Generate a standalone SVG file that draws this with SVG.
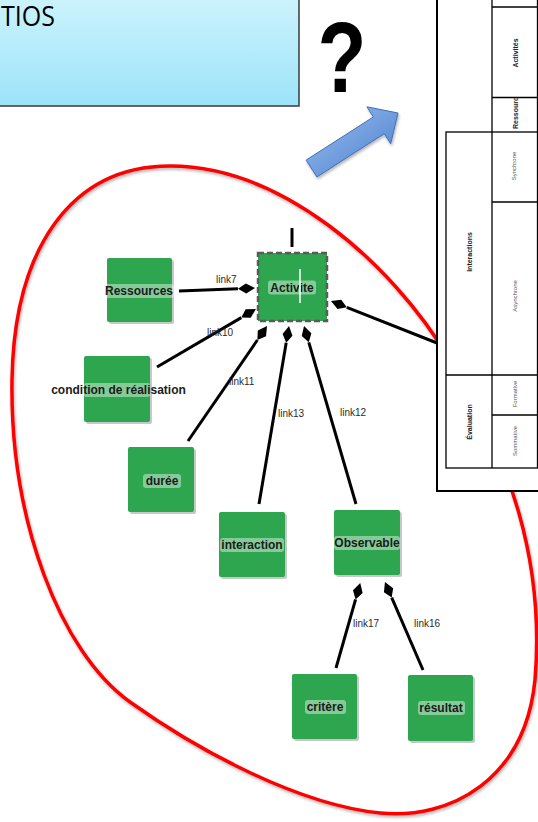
<svg xmlns="http://www.w3.org/2000/svg" width="538" height="822" viewBox="0 0 538 822">
<style>
.node{fill:#2da64f;}
.shadow{fill:#9a9a9a;opacity:0.55;}
.lbg{fill:#ffffff;opacity:0.42;}
.nl{font-family:"Liberation Sans",Arial,sans-serif;font-weight:bold;font-size:12px;fill:#1b1b1b;text-anchor:middle;}
.ll{font-family:"Liberation Sans",Arial,sans-serif;font-size:10px;fill:#2a2a2a;}
.conn{stroke:#000;stroke-width:3;fill:none;marker-end:url(#dia);}
.tb{font-family:"Liberation Sans",Arial,sans-serif;font-weight:bold;font-size:7px;fill:#222;text-anchor:middle;}
.tn{font-family:"Liberation Sans",Arial,sans-serif;font-size:6px;fill:#555;text-anchor:middle;}
.tl{stroke:#000;stroke-width:1.3;fill:none;}
</style>
<defs>
<marker id="dia" markerUnits="userSpaceOnUse" markerWidth="20" markerHeight="14" refX="0" refY="6" orient="auto" viewBox="0 0 20 12">
<path d="M0,6 L8,1 L17,6 L8,11 Z" fill="#000"/>
</marker>
<linearGradient id="titleG" x1="0" y1="0" x2="0" y2="1">
<stop offset="0" stop-color="#ccf3fd"/>
<stop offset="1" stop-color="#9de3f9"/>
</linearGradient>
<linearGradient id="arrG" x1="0" y1="0" x2="1" y2="1">
<stop offset="0" stop-color="#9cc2f2"/>
<stop offset="1" stop-color="#4a7ccb"/>
</linearGradient>
<filter id="sh" x="-10%" y="-10%" width="120%" height="120%">
<feGaussianBlur in="SourceAlpha" stdDeviation="1.5"/>
<feOffset dx="1" dy="2" result="b"/>
<feComponentTransfer><feFuncA type="linear" slope="0.3"/></feComponentTransfer>
<feMerge><feMergeNode/><feMergeNode in="SourceGraphic"/></feMerge>
</filter>
<clipPath id="resClip"><rect x="492" y="98" width="50" height="33"/></clipPath>
</defs>

<!-- red ellipse -->
<path id="ellipse" d="M170,166 C280,166 390,260 450,360 C510,460 545,560 535,680 C525,780 450,820 380,813 C300,805 200,752 130,702 C60,652 10,520 12,380 C14,250 70,166 170,166 Z" fill="none" stroke="#ff0000" stroke-width="3.5" filter="url(#sh)"/>

<!-- connectors -->
<g id="connectors">
<path class="conn" d="M179,291 L238,288.7"/>
<path class="conn" d="M157,367 L241.3,317.6"/>
<path class="conn" d="M188,441 L257.4,340"/>
<path class="conn" d="M259,504 L286.2,342.8"/>
<path class="conn" d="M356,504 L308.8,342.3"/>
<path class="conn" d="M437,343 L346.8,307.3"/>
<path class="conn" d="M336,668 L355.6,599.4"/>
<path class="conn" d="M423,670 L391.7,597.6"/>
<line x1="292" y1="228" x2="292" y2="247" stroke="#000" stroke-width="3"/>
<text class="ll" x="216" y="283">link7</text>
<text class="ll" x="207" y="336">link10</text>
<text class="ll" x="229" y="385">link11</text>
<text class="ll" x="278" y="417">link13</text>
<text class="ll" x="340" y="416">link12</text>
<text class="ll" x="353" y="627">link17</text>
<text class="ll" x="414" y="627">link16</text>
</g>

<!-- nodes -->
<g id="n-ressources">
<rect class="shadow" x="109" y="260" width="65" height="64" rx="2"/>
<rect class="node" x="107" y="258" width="65" height="64" rx="2"/>
<rect class="lbg" x="104" y="284" width="70" height="14" rx="3"/>
<text class="nl" x="139" y="295">Ressources</text>
</g>
<g id="n-activite">
<rect class="node" x="258" y="253" width="69" height="68" stroke="#5a5a5a" stroke-width="2.5" stroke-dasharray="6 3"/>
<rect class="lbg" x="268" y="280.5" width="48" height="14" rx="3"/>
<text class="nl" x="292" y="291.5">Activite</text>
<line x1="300" y1="269" x2="300" y2="303" stroke="#ffffff" stroke-width="1.5"/>
</g>
<g id="n-condition">
<rect class="shadow" x="86" y="358" width="66" height="66" rx="2"/>
<rect class="node" x="84" y="356" width="66" height="66" rx="2"/>
<rect class="lbg" x="84" y="383" width="66" height="14" rx="2"/>
<text class="nl" x="118.5" y="394">condition de réalisation</text>
</g>
<g id="n-duree">
<rect class="shadow" x="130" y="449" width="66" height="65" rx="2"/>
<rect class="node" x="128" y="447" width="66" height="65" rx="2"/>
<rect class="lbg" x="143" y="474" width="38" height="14" rx="3"/>
<text class="nl" x="162" y="485">durée</text>
</g>
<g id="n-interaction">
<rect class="shadow" x="221" y="514" width="66" height="65" rx="2"/>
<rect class="node" x="219" y="512" width="66" height="65" rx="2"/>
<rect class="lbg" x="220" y="538" width="64" height="14" rx="3"/>
<text class="nl" x="252" y="549">interaction</text>
</g>
<g id="n-observable">
<rect class="shadow" x="336" y="512" width="66" height="65" rx="2"/>
<rect class="node" x="334" y="510" width="66" height="65" rx="2"/>
<rect class="lbg" x="334" y="536" width="66" height="14" rx="3"/>
<text class="nl" x="367" y="547">Observable</text>
</g>
<g id="n-critere">
<rect class="shadow" x="294" y="676" width="65" height="65" rx="2"/>
<rect class="node" x="292" y="674" width="65" height="65" rx="2"/>
<rect class="lbg" x="305" y="700" width="41" height="14" rx="3"/>
<text class="nl" x="325" y="711">critère</text>
</g>
<g id="n-resultat">
<rect class="shadow" x="410" y="677" width="65" height="66" rx="2"/>
<rect class="node" x="408" y="675" width="65" height="66" rx="2"/>
<rect class="lbg" x="418" y="701" width="47" height="14" rx="3"/>
<text class="nl" x="441" y="712">résultat</text>
</g>

<!-- table -->
<g id="table">
<rect x="437" y="-10" width="120" height="501" fill="#ffffff" stroke="#000" stroke-width="2"/>
<line class="tl" x1="492" y1="-10" x2="492" y2="468"/>
<line class="tl" x1="492" y1="7" x2="540" y2="7"/>
<line class="tl" x1="492" y1="97.5" x2="540" y2="97.5"/>
<rect class="tl" x="446" y="132" width="100" height="336"/>
<line class="tl" x1="492" y1="202" x2="540" y2="202"/>
<line class="tl" x1="446" y1="375" x2="540" y2="375"/>
<line class="tl" x1="492" y1="415" x2="540" y2="415"/>
<line class="tl" x1="537.5" y1="-10" x2="537.5" y2="468"/>
<text class="tb" transform="translate(517.5,53) rotate(-90)">Activités</text>
<g clip-path="url(#resClip)"><text class="tb" style="text-anchor:start" transform="translate(517.5,129) rotate(-90)">Ressources</text></g>
<text class="tn" transform="translate(516.2,166) rotate(-90)">Synchrone</text>
<text class="tn" transform="translate(517,296) rotate(-90)">Asynchrone</text>
<text class="tn" transform="translate(517,394) rotate(-90)">Formative</text>
<text class="tn" transform="translate(517,441) rotate(-90)">Sommative</text>
<text class="tb" transform="translate(471.5,252) rotate(-90)">Interactions</text>
<text class="tb" transform="translate(471.5,422) rotate(-90)">Évaluation</text>
</g>

<!-- title box -->
<g id="title">
<rect x="-3" y="-3" width="302" height="109" fill="url(#titleG)" stroke="#3a3a3a" stroke-width="1.5"/>
<text x="1" y="26" font-family="'Open Sans','Liberation Sans',sans-serif" font-size="28" fill="#000" textLength="54" lengthAdjust="spacingAndGlyphs">TIOS</text>
</g>

<!-- question mark -->
<text id="qmark" transform="translate(342,92) scale(0.8,1)" font-family="'Liberation Sans',Arial,sans-serif" font-weight="bold" font-size="100" fill="#000" text-anchor="middle">?</text>

<!-- blue arrow -->
<polygon id="arrow" points="306.1,160.1 373.4,116.9 366.9,106.8 398,113 390.7,143.8 384.2,133.7 316.9,176.9" fill="url(#arrG)" stroke="#3f6fb8" stroke-width="1" filter="url(#sh)"/>
</svg>
